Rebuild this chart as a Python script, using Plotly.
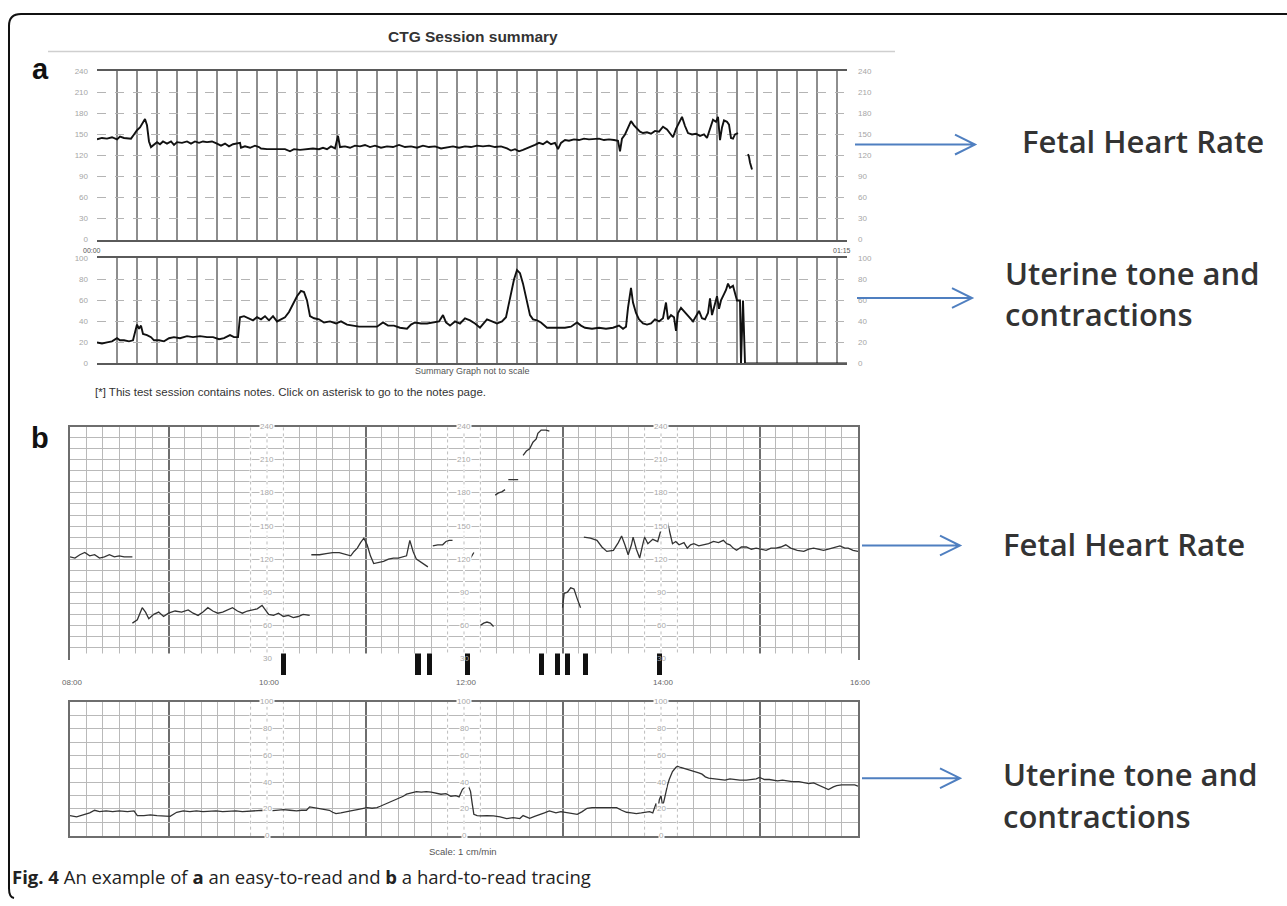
import plotly.graph_objects as go

W, H = 1287, 906


def fx(p):
    return p / W


def fy(p):
    return 1 - p / H


def split(pairs):
    return [p[0] for p in pairs], [p[1] for p in pairs]


# ---------------- DATA ----------------
# Panel a: minutes from 00:00, FHR in bpm
FHR_A = [
    (0, 143), (0.5, 145), (1, 144), (1.5, 146), (2, 143), (2.3, 147), (2.7, 145), (3, 145), (3.4, 144),
    (3.7, 150), (4, 156), (4.3, 160), (4.6, 167), (4.8, 172), (5, 163), (5.2, 140), (5.4, 132), (5.7, 136),
    (6, 139), (6.3, 136), (6.6, 140), (7, 137), (7.4, 140), (7.7, 135), (8, 139), (8.5, 138), (9, 140),
    (9.4, 137), (9.8, 140), (10.2, 138), (10.6, 140), (11, 139), (11.5, 140), (12, 137), (12.4, 134),
    (12.8, 137), (13.2, 133), (13.6, 136), (14, 137), (14.3, 138), (14.4, 131), (14.8, 133), (15.3, 131),
    (15.8, 134), (16.2, 132), (16.4, 130), (17, 129), (17.6, 129), (18.2, 128), (18.8, 129), (19.3, 126),
    (19.7, 129), (20.3, 128), (21, 129), (21.6, 130), (22.2, 129), (22.6, 131), (23, 129), (23.4, 133),
    (23.8, 130), (24.1, 148), (24.3, 132), (24.8, 133), (25.3, 131), (25.8, 134), (26.3, 133), (26.8, 135),
    (27.3, 132), (27.8, 134), (28.4, 131), (29, 133), (29.6, 132), (30.2, 135), (30.8, 132), (31.4, 133),
    (32, 131), (32.6, 134), (33.2, 132), (33.8, 133), (34.4, 130), (35, 132), (35.6, 133), (36.2, 131),
    (36.8, 133), (37.4, 132), (38, 134), (38.6, 133), (39.2, 134), (39.8, 132), (40.4, 133), (41, 130),
    (41.4, 127), (41.8, 129), (42.2, 126), (42.6, 128), (43, 130), (43.4, 132), (43.8, 135), (44.2, 138),
    (44.6, 136), (45, 140), (45.4, 136), (45.8, 138), (46.1, 129), (46.4, 138), (46.8, 142), (47.2, 141),
    (47.7, 143), (48.2, 142), (48.7, 144), (49.2, 143), (49.7, 143), (50.2, 144), (50.7, 142), (51.2, 143),
    (51.7, 142), (52.1, 141), (52.3, 126), (52.5, 144), (52.8, 150), (53.1, 160), (53.4, 169), (53.7, 163),
    (54, 158), (54.3, 154), (54.6, 152), (55, 153), (55.4, 151), (55.8, 155), (56.2, 154), (56.6, 161),
    (57, 157), (57.3, 152), (57.6, 146), (57.9, 158), (58.2, 166), (58.5, 175), (58.8, 162), (59.1, 152),
    (59.5, 150), (59.9, 151), (60.3, 148), (60.7, 150), (61, 145), (61.3, 158), (61.6, 171), (61.9, 168),
    (62.1, 175), (62.3, 142), (62.5, 160), (62.7, 170), (63, 168), (63.2, 164), (63.4, 145), (63.6, 144),
    (63.8, 150), (64.1, 152),
    (None, None), (65.1, 122), (65.2, 118), (65.3, 110), (65.5, 100),
]

# Panel a: uterine activity (0-100)
UC_A = [
    (0, 20), (0.5, 19), (1, 20), (1.5, 21), (2, 24), (2.3, 22), (2.7, 22), (3.2, 21), (3.6, 22), (3.8, 30),
    (4, 37), (4.2, 33), (4.4, 36), (4.6, 28), (5, 27), (5.4, 25), (5.7, 22), (6.2, 22), (6.7, 21), (7.2, 24),
    (7.7, 25), (8.3, 24), (9, 26), (9.6, 25), (10.3, 26), (11, 25), (11.6, 25), (12.2, 23), (12.7, 24),
    (13.3, 27), (13.7, 25), (14.1, 25), (14.3, 44), (14.7, 45), (15.2, 43), (15.6, 41), (16, 44), (16.4, 42),
    (16.8, 45), (17.2, 41), (17.6, 45), (18, 40), (18.4, 42), (18.8, 44), (19.2, 49), (19.6, 56), (20, 64),
    (20.4, 69), (20.7, 68), (21, 60), (21.3, 45), (21.7, 43), (22.2, 42), (22.7, 39), (23.3, 40), (23.9, 38),
    (24.4, 40), (25, 37), (25.6, 36), (26.2, 35), (26.8, 35), (27.4, 35), (28, 35), (28.6, 39), (29.1, 36),
    (29.7, 36), (30.3, 34), (31, 33), (31.4, 37), (31.8, 39), (32.4, 38), (33, 38), (33.6, 39), (34.2, 40),
    (34.6, 46), (34.9, 39), (35.3, 36), (35.8, 40), (36.3, 38), (36.8, 43), (37.3, 41), (37.8, 38), (38.3, 34),
    (38.7, 38), (39, 42), (39.5, 40), (40, 38), (40.5, 40), (40.9, 44), (41.3, 62), (41.7, 80), (42, 89),
    (42.3, 86), (42.6, 76), (43, 58), (43.3, 46), (43.6, 42), (44, 41), (44.4, 39), (45, 34), (45.6, 34),
    (46.2, 34), (46.8, 34), (47.4, 35), (48, 39), (48.4, 36), (48.8, 34), (49.5, 33), (50.2, 34), (50.9, 33),
    (51.6, 34), (52.2, 36), (52.6, 33), (52.9, 35), (53.1, 53), (53.4, 72), (53.6, 58), (53.9, 48), (54.2, 42),
    (54.6, 38), (55, 37), (55.4, 38), (55.8, 42), (56.2, 40), (56.6, 43), (56.9, 58), (57.1, 42), (57.4, 46),
    (57.7, 44), (57.9, 31), (58.1, 48), (58.4, 53), (58.7, 50), (59, 47), (59.3, 43), (59.6, 40), (59.9, 45),
    (60.2, 50), (60.5, 43), (60.8, 42), (61.1, 48), (61.3, 62), (61.5, 46), (61.8, 58), (62, 64), (62.2, 52),
    (62.4, 60), (62.7, 66), (62.9, 70), (63.1, 76), (63.3, 72), (63.6, 74), (63.8, 66), (64, 60), (64.3, 60),
    (64.4, 0), (64.6, 60), (64.8, 0), (65, 0), (75, 0),
]

FHR_A_TICKS = [0, 30, 60, 90, 120, 150, 180, 210, 240]
UC_TICKS = [0, 20, 40, 60, 80, 100]
TIME_A_T = [0, 75]
TIME_A_LABELS = ["00:00", "01:15"]

# Panel b: minutes from 08:00, FHR in bpm (gaps = signal loss)
FHR_B = [
    (0, 122), (3, 121), (6, 124), (9, 126), (12, 123), (15, 124), (18, 121), (21, 122), (24, 124), (27, 122),
    (30, 123), (33, 122), (38, 122),
    (None, None),
    (38, 62), (41, 65), (44, 76), (46, 72), (48, 66), (51, 70), (54, 72), (57, 68), (60, 71), (64, 73),
    (68, 72), (72, 74), (75, 71), (78, 69), (81, 72), (84, 76), (87, 73), (90, 71), (93, 72), (96, 74),
    (99, 76), (102, 73), (105, 71), (108, 73), (111, 74), (114, 75), (117, 78), (119, 74), (121, 70),
    (124, 69), (127, 71), (130, 68), (133, 69), (136, 67), (139, 68), (142, 70), (146, 69),
    (None, None),
    (147, 124), (152, 124), (156, 125), (160, 126), (164, 126), (168, 124), (171, 123), (173, 127), (175, 130),
    (177, 135), (179, 139), (181, 133), (183, 123), (185, 116), (188, 117), (191, 118), (194, 120), (197, 121),
    (200, 121), (202, 122), (205, 123), (207, 137), (209, 127), (211, 120), (213, 118), (215, 116), (218, 113),
    (None, None),
    (221, 132), (224, 133), (227, 133), (229, 136), (231, 137), (233, 137),
    (None, None),
    (236, 120), (238, 118), (240, 117), (242, 119), (244, 121), (246, 126),
    (None, None),
    (250, 60), (252, 62), (254, 63), (256, 62), (258, 59),
    (None, None),
    (259, 178), (261, 180), (263, 181), (265, 183),
    (None, None),
    (267, 192), (270, 192), (273, 192),
    (None, None),
    (276, 214), (278, 218), (280, 220), (282, 226), (284, 229), (285, 234), (287, 237), (290, 237), (292, 236),
    (None, None),
    (300, 76), (301, 89), (303, 90), (305, 94), (307, 93), (308, 88), (309, 84), (311, 76),
    (None, None),
    (313, 140), (317, 139), (321, 137), (324, 131), (327, 127), (331, 128), (334, 135), (336, 141), (338, 133),
    (340, 124), (342, 133), (343, 140), (345, 129), (347, 121), (349, 134), (350, 140), (352, 134), (355, 138),
    (358, 136), (361, 152), (364, 153), (366, 142), (367, 134), (369, 136), (371, 133), (374, 135), (376, 130),
    (378, 133), (380, 134), (383, 132), (386, 133), (389, 134), (392, 136), (395, 135), (398, 137), (400, 134),
    (402, 133), (404, 130), (406, 128), (409, 131), (412, 131), (415, 129), (418, 130), (421, 129), (424, 128),
    (427, 130), (430, 130), (433, 131), (436, 133), (439, 130), (443, 128), (447, 127), (450, 129), (453, 130),
    (456, 129), (459, 128), (462, 129), (464, 130), (467, 131), (469, 132), (472, 130), (474, 130), (477, 128),
    (480, 127),
]

MARKS_B = [130, 212, 219, 242, 287, 297, 303, 314, 359]

UC_B = [
    (0, 15), (4, 14), (8, 15.5), (12, 17), (15, 19), (18, 18), (22, 18.5), (26, 18), (30, 18.5), (35, 18),
    (39, 18.5), (41, 15), (45, 15), (49, 15.5), (53, 15), (57, 15), (61, 14.5), (65, 17.5), (69, 18.5),
    (73, 18), (77, 18.5), (81, 18), (85, 18.5), (89, 18.5), (93, 18), (97, 18.5), (101, 18.5), (105, 18),
    (110, 18.5), (114, 18.5), (118, 19), (122, 18.5), (126, 19), (130, 19.5), (134, 19), (138, 18.5),
    (141, 19), (144, 19), (146, 21.5), (149, 21), (152, 20), (155, 19.5), (158, 19), (160, 17.5), (162, 16.5),
    (165, 17), (168, 18), (171, 18.5), (175, 19.5), (178, 20), (181, 21), (184, 20.5), (187, 21), (189, 22),
    (191, 23), (193, 24), (195, 25), (198, 26.5), (201, 28), (203, 29.5), (205, 31), (208, 32), (211, 33),
    (214, 32.5), (217, 33), (220, 32.5), (223, 32), (226, 31), (229, 31.5), (232, 29.5), (235, 30), (237, 29),
    (239, 34.5), (241, 37), (242, 39.5), (243, 36), (244, 33), (245, 24), (246, 16), (248, 15), (250, 14.8),
    (254, 15), (258, 14.8), (262, 14), (266, 12.8), (270, 13.5), (274, 12.8), (276, 15), (280, 13), (283, 14.5),
    (286, 15.5), (289, 17), (292, 18.5), (296, 17), (299, 18), (302, 17.5), (306, 17), (309, 16), (312, 18),
    (315, 20.5), (318, 21), (321, 21), (325, 21.5), (329, 21), (333, 21), (336, 19), (339, 17.5), (342, 17),
    (345, 16.5), (348, 17), (351, 17.5), (353, 18), (355, 17), (356, 20), (357, 24), (358, 19), (359, 27),
    (360, 30), (361, 22), (362, 27), (363, 33), (364, 38), (365, 42), (367, 48), (369, 51), (370, 52),
    (372, 51), (375, 50), (378, 49), (381, 48), (383, 47), (385, 46), (387, 44), (389, 43), (392, 42.5),
    (396, 42), (399, 41.5), (402, 42.5), (404, 42), (408, 41.5), (412, 41.5), (415, 42), (418, 42.5),
    (420, 43.5), (423, 42), (426, 42), (428, 41.5), (431, 41), (434, 41.5), (436, 41), (440, 40.5),
    (444, 40.5), (447, 40), (450, 39), (453, 39.5), (456, 38), (459, 36), (462, 34.5), (465, 36.5),
    (467, 37.5), (470, 38), (473, 38), (476, 37.5), (478, 38), (480, 37),
]

TIME_B_T = [0, 120, 240, 360, 480]
TIME_B_LABELS = ["08:00", "10:00", "12:00", "14:00", "16:00"]
FHR_B_TICKS = [30, 60, 90, 120, 150, 180, 210, 240]
LABEL_COLS_B = [120, 240, 360]

# ---------------- FIGURE ----------------
fig = go.Figure()

fx_, fy_ = split(FHR_A)
fig.add_trace(go.Scatter(x=fx_, y=fy_, xaxis="x", yaxis="y", mode="lines",
                         line=dict(color="#111", width=1.9), connectgaps=False, hoverinfo="skip"))
ux, uy = split(UC_A)
fig.add_trace(go.Scatter(x=ux, y=uy, xaxis="x2", yaxis="y2", mode="lines",
                         line=dict(color="#111", width=1.9), hoverinfo="skip"))
# invisible helpers so the right-hand label axes render
fig.add_trace(go.Scatter(x=[0], y=[0], xaxis="x", yaxis="y6", mode="markers",
                         marker=dict(opacity=0), hoverinfo="skip"))
fig.add_trace(go.Scatter(x=[0], y=[0], xaxis="x2", yaxis="y7", mode="markers",
                         marker=dict(opacity=0), hoverinfo="skip"))

bx, by = split(FHR_B)
fig.add_trace(go.Scatter(x=bx, y=by, xaxis="x3", yaxis="y3", mode="lines",
                         line=dict(color="#333", width=1.3), connectgaps=False, hoverinfo="skip"))
fig.add_trace(go.Bar(x=MARKS_B, y=[1] * len(MARKS_B), xaxis="x5", yaxis="y5", width=3.2,
                     marker=dict(color="#111", line=dict(width=0)), hoverinfo="skip"))
cx, cy = split(UC_B)
fig.add_trace(go.Scatter(x=cx, y=cy, xaxis="x4", yaxis="y4", mode="lines",
                         line=dict(color="#333", width=1.3), hoverinfo="skip"))

A_DOM = [fx(97), fx(847)]
B_DOM = [fx(70), fx(858)]
tickfont_a = dict(family="Liberation Sans, Arial", size=8, color="#a6a6a6")

ax_a = dict(range=[0, 75], tick0=0, dtick=2, showgrid=True, gridcolor="#8e8e8e", gridwidth=1.6,
            showticklabels=False, ticks="", zeroline=False, showline=True, mirror=True,
            linecolor="#5a5a5a", linewidth=2, domain=A_DOM, fixedrange=True)
ax_b = dict(range=[0, 480], tick0=60, dtick=120, showgrid=True, gridcolor="#6e6e6e", gridwidth=2,
            minor=dict(tick0=0, dtick=10, showgrid=True, gridcolor="#b9b9b9", gridwidth=1),
            showticklabels=False, ticks="", zeroline=False, showline=True, mirror=True,
            linecolor="#6e6e6e", linewidth=2, domain=B_DOM, fixedrange=True)

fig.update_layout(
    width=W, height=H, margin=dict(l=0, r=0, t=0, b=0),
    paper_bgcolor="white", plot_bgcolor="white", showlegend=False, bargap=0,
    xaxis=dict(ax_a, anchor="y"),
    yaxis=dict(domain=[fy(238), fy(68)], range=[0, 240], tickvals=FHR_A_TICKS, showgrid=True,
               gridcolor="#b4b4b4", griddash="dash", gridwidth=1, zeroline=False, tickfont=tickfont_a,
               ticks="", ticklabelstandoff=8, anchor="x", showline=False, fixedrange=True),
    yaxis6=dict(overlaying="y", side="right", range=[0, 240], tickvals=FHR_A_TICKS, showgrid=False,
                zeroline=False, tickfont=tickfont_a, ticks="", ticklabelstandoff=10, anchor="x",
                fixedrange=True),
    xaxis2=dict(ax_a, anchor="y2"),
    yaxis2=dict(domain=[fy(363), fy(257)], range=[0, 100], tickvals=UC_TICKS, showgrid=True,
                gridcolor="#b4b4b4", griddash="dash", gridwidth=1, zeroline=False, tickfont=tickfont_a,
                ticks="", ticklabelstandoff=8, anchor="x2", fixedrange=True),
    yaxis7=dict(overlaying="y2", side="right", range=[0, 100], tickvals=UC_TICKS, showgrid=False,
                zeroline=False, tickfont=tickfont_a, ticks="", ticklabelstandoff=10, anchor="x2",
                fixedrange=True),
    xaxis3=dict(ax_b, anchor="y3"),
    yaxis3=dict(domain=[fy(661), fy(427)], range=[30, 240], dtick=10, showgrid=True, gridcolor="#b9b9b9",
                gridwidth=1, zeroline=False, showticklabels=False, ticks="", showline=True, mirror=True,
                linecolor="#6e6e6e", linewidth=2, anchor="x3", fixedrange=True),
    xaxis5=dict(domain=B_DOM, range=[0, 480], visible=False, anchor="y5", fixedrange=True),
    yaxis5=dict(domain=[fy(678), fy(656)], range=[0, 1], visible=False, anchor="x5", fixedrange=True),
    xaxis4=dict(ax_b, anchor="y4"),
    yaxis4=dict(domain=[fy(840), fy(705)], range=[0, 100], dtick=10, showgrid=True, gridcolor="#b9b9b9",
                gridwidth=1, zeroline=False, showticklabels=False, ticks="", showline=True, mirror=True,
                linecolor="#6e6e6e", linewidth=2, anchor="x4", fixedrange=True),
)

shapes = []
annotations = []

lab_font = dict(family="Liberation Sans, Arial", size=8, color="#a8a8a8")
# label columns in panel b (dashed light lines with printed scale values)
for col in LABEL_COLS_B:
    for xr, yr, lo, hi in (("x3", "y3", 30, 240), ("x4", "y4", 0, 100)):
        for off in (-10, 0, 10):
            shapes.append(dict(type="line", xref=xr, yref=yr, x0=col + off, x1=col + off, y0=lo, y1=hi,
                               layer="between", line=dict(color="white", width=2)))
            shapes.append(dict(type="line", xref=xr, yref=yr, x0=col + off, x1=col + off, y0=lo, y1=hi,
                               layer="between", line=dict(color="#bdbdbd", width=1, dash="dot")))
    for v in FHR_B_TICKS:
        annotations.append(dict(x=col, y=v, xref="x3", yref="y3", text=str(v), showarrow=False,
                                font=lab_font, borderpad=0,
                                bgcolor="white" if v != FHR_B_TICKS[0] else "rgba(0,0,0,0)"))
    for v in UC_TICKS:
        annotations.append(dict(x=col, y=v, xref="x4", yref="y4", text=str(v), showarrow=False,
                                font=lab_font, bgcolor="white", borderpad=0))

# time labels
for t, lab in zip(TIME_A_T, TIME_A_LABELS):
    annotations.append(dict(x=t, y=fy(243.5), xref="x", yref="paper", text=lab, showarrow=False, xshift=-5,
                            font=dict(family="Liberation Sans, Arial", size=7, color="#555")))
for t, lab in zip(TIME_B_T, TIME_B_LABELS):
    annotations.append(dict(x=t, y=fy(692), xref="x3", yref="paper", text=lab, showarrow=False, xshift=2,
                            font=dict(family="Liberation Sans, Arial", size=8, color="#666")))


def txt(x, y, s, size, color="#333", family="Liberation Sans, Arial", xanchor="left", weight=None):
    f = dict(family=family, size=size, color=color)
    if weight:
        f["weight"] = weight
    annotations.append(dict(x=fx(x), y=fy(y), xref="paper", yref="paper", text=s, showarrow=False,
                            xanchor=xanchor, yanchor="middle", font=f))


txt(473, 33, "<b>CTG Session summary</b>", 15.5, color="#333", xanchor="center")
txt(40, 66, "<b>a</b>", 29, color="#111", xanchor="center")
txt(40, 438, "<b>b</b>", 29, color="#111", xanchor="center")
txt(93, 392, "[*] This test session contains notes. Click on asterisk to go to the notes page.", 11.5,
    color="#333")
txt(472, 371, "Summary Graph not to scale", 9, color="#555", xanchor="center")
txt(463, 856, "Scale: 1 cm/min", 9.5, color="#555", xanchor="center")

big = "Open Sans"
BIG = 31
txt(1020, 138, "Fetal Heart Rate", BIG, color="#333", family=big, weight=600)
txt(1003, 272, "Uterine tone and", BIG, color="#333", family=big, weight=600)
txt(1003, 313, "contractions", BIG, color="#333", family=big, weight=600)
txt(1001, 545, "Fetal Heart Rate", BIG, color="#333", family=big, weight=600)
txt(1001, 778, "Uterine tone and", BIG, color="#333", family=big, weight=600)
txt(1001, 820, "contractions", BIG, color="#333", family=big, weight=600)

txt(10, 881, "<b>Fig. 4</b> An example of <b>a</b> an easy-to-read and <b>b</b> a hard-to-read tracing",
    18.5, color="#222", family="Open Sans")


def P(x, y):
    return f"{fx(x):.5f},{fy(y):.5f}"


def arrow(x0, x1, y):
    return (f"M {P(x0, y)} L {P(x1, y)} M {P(x1 - 20, y - 10)} L {P(x1, y)} L {P(x1 - 20, y + 10)}")


for x0, x1, y in ((855, 975, 142), (857, 972, 297), (862, 960, 547), (862, 960, 782)):
    shapes.append(dict(type="path", xref="paper", yref="paper", path=arrow(x0, x1, y),
                       line=dict(color="#4f7fc0", width=2)))

# title rule
shapes.append(dict(type="line", xref="paper", yref="paper", x0=fx(48), x1=fx(895), y0=fy(48), y1=fy(48),
                   line=dict(color="#cfcfcf", width=1.5)))
# frame
frame = (f"M {P(1287, 10)} L {P(21, 10)} Q {P(9, 10)} {P(9, 22)} L {P(9, 893)} Q {P(9, 902)} {P(14, 903)}")
shapes.append(dict(type="path", xref="paper", yref="paper", path=frame, line=dict(color="#111", width=2)))

fig.update_layout(shapes=shapes, annotations=annotations)
fig.write_html("out.html", config={"displayModeBar": False},
               post_script="document.body.style.margin='0';document.body.style.overflow='hidden';")
